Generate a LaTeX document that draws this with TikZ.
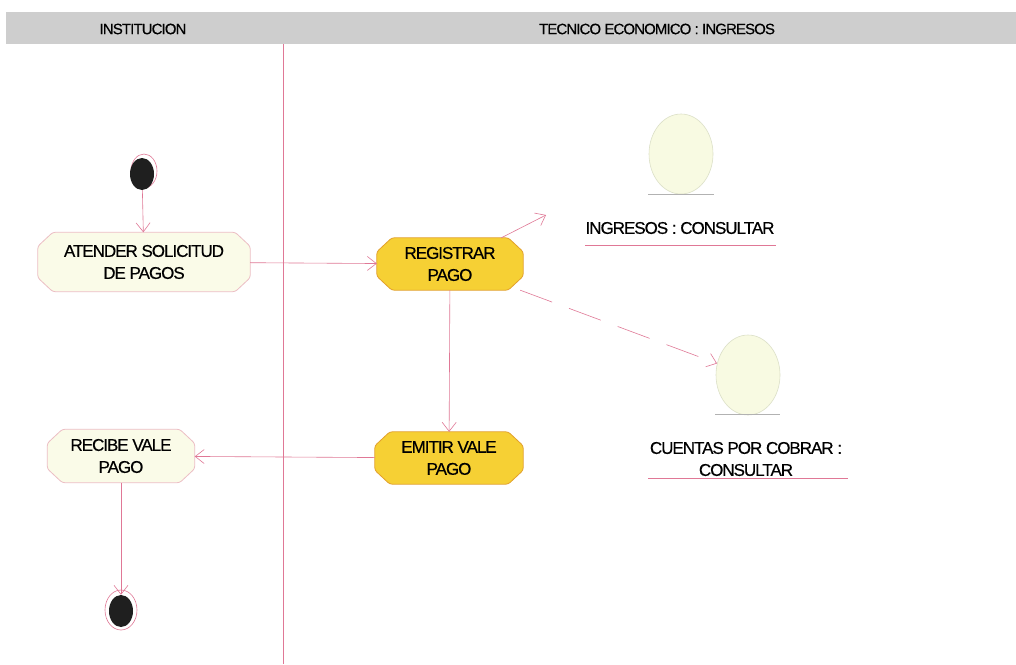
\documentclass[tikz,border=0pt]{standalone}
\usepackage{fontspec}
\setmainfont{Liberation Sans}[LetterSpace=-6, FakeBold=0.4]
\usetikzlibrary{shapes.geometric,arrows.meta,calc,backgrounds}
\definecolor{lanepink}{RGB}{224,120,150}
\definecolor{creamfill}{RGB}{250,251,232}
\definecolor{creamedge}{RGB}{236,190,196}
\definecolor{yellowfill}{RGB}{246,208,52}
\definecolor{yellowedge}{RGB}{226,160,44}
\definecolor{headgray}{RGB}{206,206,206}
\definecolor{objfill}{RGB}{248,250,226}
\definecolor{objedge}{RGB}{220,224,200}
\tikzset{
  lbl/.style={font=\fontsize{17}{22}\selectfont, align=center, text=black},
  activity/.style={lbl, rectangle, inner sep=0pt},
  objnode/.style={ellipse, fill=objfill, draw=objedge, line width=0.6pt,
    minimum width=64pt, minimum height=80pt, inner sep=0pt},
  flow/.style={draw=lanepink, line width=0.6pt,
    -{Straight Barb[length=9pt,width=14pt,line width=0.6pt]}},
  headlbl/.style={font=\fontsize{15}{17}\selectfont, text=black},
}
% chamfered outline drawn behind a named activity node: name, fill, edge
\newcommand\chamferbox[3]{%
  \begin{scope}[on background layer]
    \filldraw[fill=#2, draw=#3, line width=0.8pt, rounded corners=2.5pt]
      ($(#1.north west)+(15,0)$) -- ($(#1.north east)+(-15,0)$)
      -- ($(#1.north east)+(0,14)$) -- ($(#1.south east)+(0,-14)$)
      -- ($(#1.south east)+(-15,0)$) -- ($(#1.south west)+(15,0)$)
      -- ($(#1.south west)+(0,-14)$) -- ($(#1.north west)+(0,14)$) -- cycle;
  \end{scope}}
\begin{document}
\begin{tikzpicture}[x=1pt,y=-1pt]
\useasboundingbox (0,0) rectangle (1016,664);
\begin{scope}[on background layer]
  \fill[white] (0,0) rectangle (1016,664);
\end{scope}

% swimlane header and divider
\fill[headgray] (6,12) rectangle (1016,44);
\node[headlbl] (laneA) at (143,29) {INSTITUCION};
\node[headlbl] (laneB) at (657,29) {TECNICO ECONOMICO : INGRESOS};
\draw[lanepink, line width=0.6pt] (283,44) -- (283,664);

% initial state
\draw[lanepink, line width=0.6pt] (144,171) ellipse [x radius=13, y radius=17];
\node[ellipse, fill=black!88, minimum width=24pt, minimum height=32pt, inner sep=0pt] (start) at (142,174) {};

% activities
\node[activity, minimum width=212pt, minimum height=59pt] (atender) at (144,262)
  {ATENDER SOLICITUD\\DE PAGOS};
\chamferbox{atender}{creamfill}{creamedge}
\node[activity, minimum width=146pt, minimum height=52pt] (registrar) at (450,264)
  {REGISTRAR\\PAGO};
\chamferbox{registrar}{yellowfill}{yellowedge}
\node[activity, minimum width=148pt, minimum height=52pt] (emitir) at (449,458)
  {EMITIR VALE\\PAGO};
\chamferbox{emitir}{yellowfill}{yellowedge}
\node[activity, minimum width=147pt, minimum height=53pt] (recibe) at (121,456)
  {RECIBE VALE\\PAGO};
\chamferbox{recibe}{creamfill}{creamedge}

% final state
\draw[lanepink, line width=0.6pt] (121,610) ellipse [x radius=16, y radius=20];
\node[ellipse, fill=black!88, minimum width=24pt, minimum height=32pt, inner sep=0pt] (finish) at (121,611) {};

% object flows
\node[objnode] (ingresos) at (681,154) {};
\draw[gray!60, line width=0.6pt] (648,194) -- (714,194);
\node[lbl] (ingresosLbl) at (680,228) {INGRESOS : CONSULTAR};
\draw[lanepink, line width=0.6pt] (585,245) -- (776,245);

\node[objnode] (cuentas) at (748,375) {};
\draw[gray!60, line width=0.6pt] (715,414) -- (780,414);
\node[lbl] (cuentasLbl) at (746,459) {CUENTAS POR COBRAR :\\CONSULTAR};
\draw[lanepink, line width=0.6pt] (648,478) -- (848,478);

\coordinate (ingTip) at (546,215);

% transitions
\draw[flow] (start) -- (atender);
\draw[flow] (atender) -- (registrar);
\draw[flow] (registrar) -- (ingTip);
\draw[flow, dash pattern=on 34pt off 18pt] (registrar) -- (cuentas);
\draw[flow] (registrar) -- (emitir);
\draw[flow] (emitir) -- (recibe);
\draw[flow] (recibe) -- (finish.north);
\end{tikzpicture}
\end{document}
